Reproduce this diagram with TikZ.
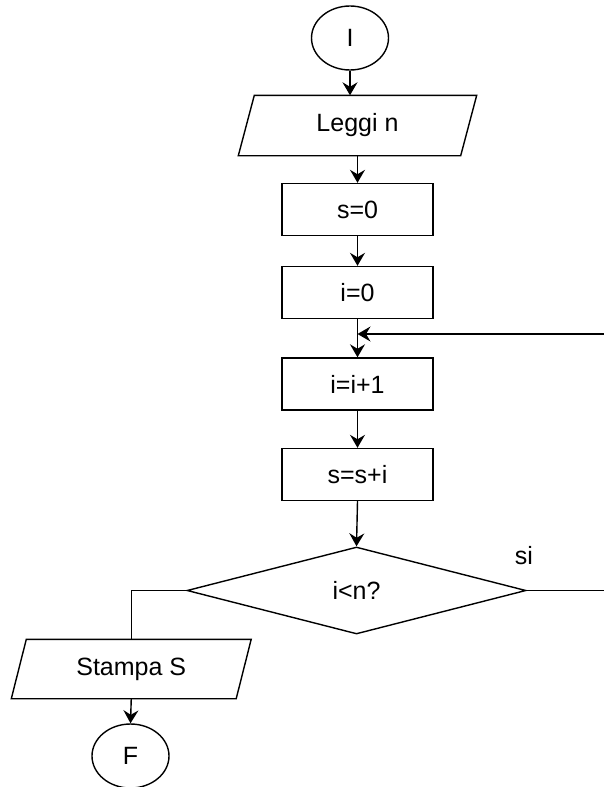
\documentclass[tikz,border=0pt]{standalone}
\usepackage{fontspec}
\setmainfont{Liberation Sans}
\usetikzlibrary{arrows.meta,shapes.geometric}
\begin{document}
\begin{tikzpicture}[x=1pt,y=-1pt,
  line width=1.4pt,
  every node/.style={font=\fontsize{25}{30}\selectfont, inner sep=0pt},
  arr/.style={-{Stealth[length=13pt,width=15pt,inset=4.5pt]}},
  term/.style={ellipse, draw, minimum width=77pt, minimum height=64pt},
  proc/.style={rectangle, draw, minimum width=151pt, minimum height=52pt},
  io/.style={rectangle, draw=none},
  dec/.style={diamond, draw, minimum width=339pt, minimum height=87pt, aspect=3.9}
]
\useasboundingbox (0,0) rectangle (604,787);

\node[term] (start) at (350,38) {I};
\node[io, minimum width=221pt, minimum height=59pt] (leggi) at (357.5,125.5) {Leggi n};
\draw ([xshift=8pt]leggi.north west) -- ([xshift=8pt]leggi.north east)
  -- ([xshift=-8pt]leggi.south east) -- ([xshift=-8pt]leggi.south west) -- cycle;
\node[proc] (s0) at (357.5,209.5) {s=0};
\node[proc] (i0) at (357.5,292.5) {i=0};
\node[proc] (inc) at (357.5,384) {i=i+1};
\node[proc] (sum) at (357.5,474.5) {s=s+i};
\node[dec] (test) at (356.5,590.5) {i<n?};
\node (si) at (524,556) {si};
\node[io, minimum width=223.5pt, minimum height=58pt] (out) at (131.25,669) {Stampa S};
\draw ([xshift=7.5pt]out.north west) -- ([xshift=7.5pt]out.north east)
  -- ([xshift=-7.5pt]out.south east) -- ([xshift=-7.5pt]out.south west) -- cycle;
\node[term] (fine) at (130.5,756) {F};

\coordinate (loopR) at (604,334);
\coordinate (yesR) at (604,590.5);

\draw[arr] (start.south) -- (start.south |- leggi.north);
\draw[arr] (leggi.south) -- (s0.north);
\draw[arr] (s0.south) -- (i0.north);
\draw[arr] (i0.south) -- (inc.north);
\draw[arr] (loopR) -- (i0.south |- loopR);
\draw[arr] (inc.south) -- (sum.north);
\draw[arr] (sum.south) -- (test.north);
\draw (test.east) -- (yesR);
\draw (test.west) -| (out.north);
\draw[arr] (out.south) -- (fine.north);
\end{tikzpicture}
\end{document}
